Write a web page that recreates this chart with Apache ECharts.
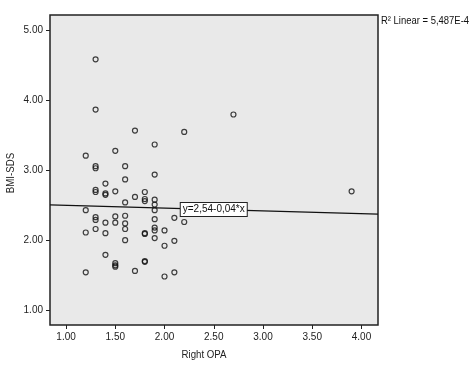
<!DOCTYPE html>
<html><head><meta charset="utf-8">
<script src="https://cdn.jsdelivr.net/npm/echarts@6/dist/echarts.min.js"></script>
<style>html,body{margin:0;padding:0;background:#fff}#c{width:472px;height:368px}</style>
</head><body><div id="c"></div>
<script>
var rightOPA = [1.30,1.30,1.70,2.20,2.70,1.90,1.50,1.20,1.30,1.30,1.60,1.90,1.60,1.40,1.30,1.30,1.50,1.80,3.90,1.40,1.40,1.70,1.80,1.80,1.90,1.60,1.90,1.90,1.20,1.30,1.30,1.50,1.60,2.10,1.90,2.20,1.40,1.50,1.60,1.30,1.60,1.90,1.90,2.00,1.20,1.40,1.80,1.80,1.60,1.90,2.10,2.00,1.40,1.80,1.80,1.50,1.50,1.50,1.70,1.20,2.10,2.00];
var bmiSDS   = [4.59,3.87,3.57,3.55,3.80,3.37,3.28,3.21,3.06,3.03,3.06,2.94,2.87,2.81,2.72,2.69,2.70,2.69,2.70,2.67,2.65,2.62,2.59,2.56,2.58,2.54,2.51,2.43,2.43,2.33,2.29,2.34,2.35,2.32,2.30,2.26,2.25,2.25,2.24,2.16,2.16,2.18,2.14,2.14,2.11,2.10,2.09,2.10,2.00,2.03,1.99,1.92,1.79,1.70,1.69,1.67,1.64,1.62,1.56,1.54,1.54,1.48];
var xTicks = [1.00,1.50,2.00,2.50,3.00,3.50,4.00];
var yTicks = [1.00,2.00,3.00,4.00,5.00];
var fitIntercept = 2.54, fitSlope = -0.04;
var fitLabel = 'y=2,54-0,04*x';
var r2Label = 'R\u00B2 Linear = 5,487E-4';
var xName = 'Right OPA', yName = 'BMI-SDS';

var xMin = 0.837, xMax = 4.168, yMin = 0.785, yMax = 5.225;
var FONT = '"Liberation Sans", Arial, sans-serif';
var pts = rightOPA.map(function(x,i){return [x,bmiSDS[i]];});
var fitLine = [[xMin, fitIntercept+fitSlope*xMin],[xMax, fitIntercept+fitSlope*xMax]];
var labX = 2.50;

var chart = echarts.init(document.getElementById('c'));
chart.setOption({
  animation:false,
  backgroundColor:'#fff',
  grid:{left:50,top:15,width:328,height:310,show:true,backgroundColor:'#e9e9e9',borderColor:'#222',borderWidth:1.5},
  xAxis:{type:'value',min:xMin,max:xMax,
    axisLine:{show:false},splitLine:{show:false},
    axisTick:{show:true,length:4,customValues:xTicks,lineStyle:{color:'#222'}},
    axisLabel:{customValues:xTicks,formatter:function(v){return v.toFixed(2);},fontFamily:FONT,fontSize:10,color:'#222',margin:7}},
  yAxis:{type:'value',min:yMin,max:yMax,
    axisLine:{show:false},splitLine:{show:false},
    axisTick:{show:true,length:4,customValues:yTicks,lineStyle:{color:'#222'}},
    axisLabel:{customValues:yTicks,formatter:function(v){return v.toFixed(2);},fontFamily:FONT,fontSize:10,color:'#222',margin:7}},
  graphic:[
    {type:'text',x:381,y:21,scaleX:0.86,style:{text:r2Label,font:'11px '+FONT,fill:'#111',align:'left',verticalAlign:'middle'}},
    {type:'text',x:204,y:355,scaleX:0.88,style:{text:xName,font:'11px '+FONT,fill:'#222',align:'center',verticalAlign:'middle'}},
    {type:'text',x:11,y:173,rotation:Math.PI/2,scaleX:0.88,style:{text:yName,font:'11px '+FONT,fill:'#222',align:'center',verticalAlign:'middle'}}
  ],
  series:[
    {type:'line',data:fitLine,showSymbol:false,symbol:'none',lineStyle:{color:'#111',width:1.2},z:2,
     markPoint:{symbol:'rect',symbolSize:0,data:[{coord:[labX,fitIntercept+fitSlope*labX]}],
       label:{show:true,formatter:fitLabel,position:'inside',fontFamily:FONT,fontSize:10,color:'#111',
         backgroundColor:'#fff',borderColor:'#222',borderWidth:1,padding:[2,2,1,2]}}},
    {type:'scatter',data:pts,symbol:'circle',symbolSize:5,z:3,
     itemStyle:{color:'rgba(0,0,0,0)',borderColor:'#111',borderWidth:1.2}}
  ]
});
</script></body></html>
